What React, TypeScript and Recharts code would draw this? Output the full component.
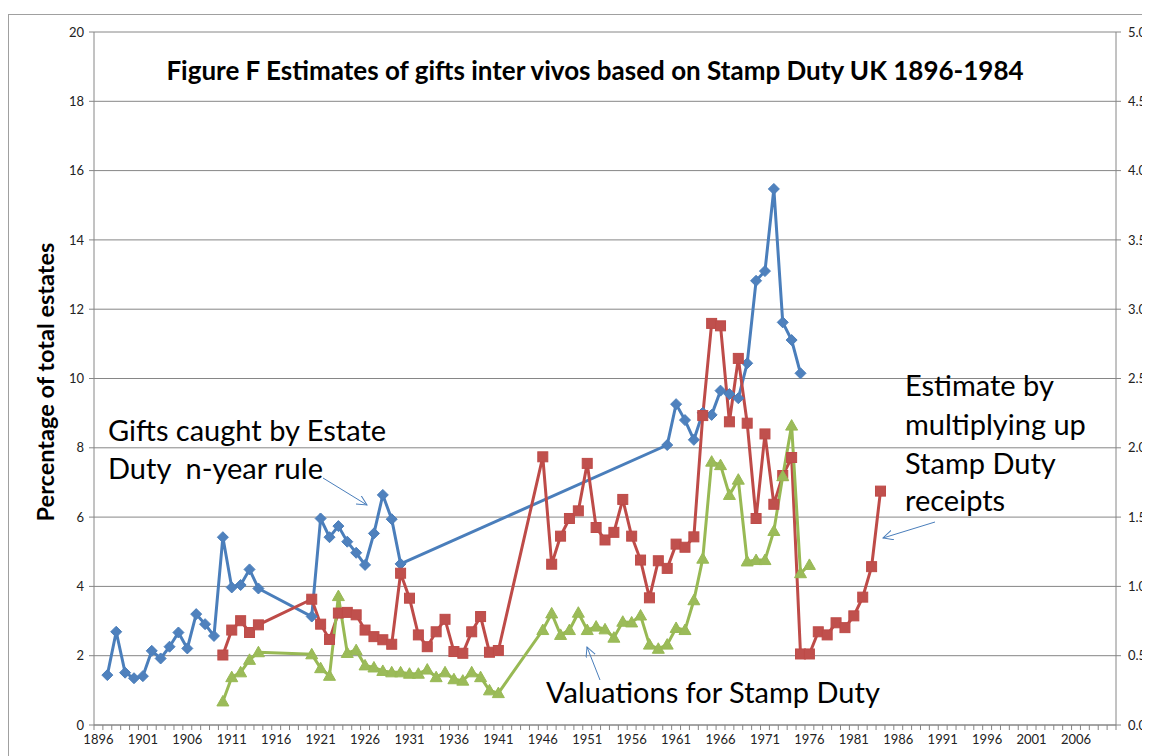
import React from "react";
import { LineChart, Line, XAxis, YAxis, CartesianGrid } from "recharts";

const years = [
  1896, 1897, 1898, 1899, 1900, 1901, 1902, 1903, 1904, 1905,
  1906, 1907, 1908, 1909, 1910, 1911, 1912, 1913, 1914, 1915,
  1916, 1917, 1918, 1919, 1920, 1921, 1922, 1923, 1924, 1925,
  1926, 1927, 1928, 1929, 1930, 1931, 1932, 1933, 1934, 1935,
  1936, 1937, 1938, 1939, 1940, 1941, 1942, 1943, 1944, 1945,
  1946, 1947, 1948, 1949, 1950, 1951, 1952, 1953, 1954, 1955,
  1956, 1957, 1958, 1959, 1960, 1961, 1962, 1963, 1964, 1965,
  1966, 1967, 1968, 1969, 1970, 1971, 1972, 1973, 1974, 1975,
  1976, 1977, 1978, 1979, 1980, 1981, 1982, 1983, 1984,
];

// Gifts caught by Estate Duty n-year rule (left axis, %)
const giftsEstateDuty = [
  null, 1.44, 2.69, 1.51, 1.35, 1.41, 2.14, 1.92, 2.26, 2.67,
  2.21, 3.2, 2.91, 2.57, 5.42, 3.97, 4.04, 4.49, 3.94, null,
  null, null, null, null, 3.13, 5.96, 5.42, 5.74, 5.29, 4.97,
  4.62, 5.53, 6.64, 5.94, 4.65, null, null, null, null, null,
  null, null, null, null, null, null, null, null, null, null,
  null, null, null, null, null, null, null, null, null, null,
  null, null, null, null, 8.08, 9.26, 8.8, 8.23, 9.01, 8.95,
  9.65, 9.55, 9.43, 10.44, 12.82, 13.1, 15.47, 11.62, 11.11, 10.15,
  null, null, null, null, null, null, null, null, null,
];

// Estimate by multiplying up Stamp Duty receipts (left axis, %)
const stampDutyEstimate = [
  null, null, null, null, null, null, null, null, null, null,
  null, null, null, null, 2.02, 2.74, 3.01, 2.67, 2.89, null,
  null, null, null, null, 3.63, 2.91, 2.47, 3.23, 3.25, 3.18,
  2.74, 2.55, 2.46, 2.33, 4.38, 3.66, 2.6, 2.26, 2.69, 3.05,
  2.12, 2.07, 2.69, 3.13, 2.1, 2.15, null, null, null, null,
  7.74, 4.64, 5.45, 5.96, 6.18, 7.55, 5.7, 5.34, 5.56, 6.51,
  5.45, 4.76, 3.67, 4.74, 4.52, 5.22, 5.13, 5.43, 8.93, 11.59,
  11.52, 8.75, 10.58, 8.71, 5.96, 8.4, 6.37, 7.2, 7.72, 2.05,
  2.05, 2.69, 2.6, 2.95, 2.81, 3.15, 3.69, 4.57, 6.75,
];

// Valuations for Stamp Duty (right axis)
const valuationsStampDuty = [
  null, null, null, null, null, null, null, null, null, null,
  null, null, null, null, 0.17, 0.345, 0.38, 0.47, 0.525, null,
  null, null, null, null, 0.51, 0.41, 0.355, 0.93, 0.52, 0.54,
  0.43, 0.415, 0.39, 0.38, 0.38, 0.37, 0.37, 0.4, 0.345, 0.38,
  0.33, 0.32, 0.38, 0.345, 0.25, 0.23, null, null, null, null,
  0.685, 0.805, 0.65, 0.685, 0.81, 0.685, 0.71, 0.69, 0.63, 0.745,
  0.74, 0.79, 0.58, 0.55, 0.58, 0.7, 0.685, 0.9, 1.2, 1.9,
  1.875, 1.66, 1.77, 1.18, 1.19, 1.19, 1.4, 1.795, 2.16, 1.095,
  1.155, null, null, null, null, null, null, null, null,
];

const leftTicks = [0, 2, 4, 6, 8, 10, 12, 14, 16, 18, 20];
const rightTicks = [0, 0.5, 1, 1.5, 2, 2.5, 3, 3.5, 4, 4.5, 5];
const labelYears = [
  1896, 1901, 1906, 1911, 1916, 1921, 1926, 1931, 1936, 1941, 1946, 1951,
  1956, 1961, 1966, 1971, 1976, 1981, 1986, 1991, 1996, 2001, 2006,
];
const firstCategory = 1896;
const lastCategory = 2010;

const data = years.map((year, i) => ({
  year,
  gifts: giftsEstateDuty[i],
  stamp: stampDutyEstimate[i],
  valuations: valuationsStampDuty[i],
}));

const boundaryTicks: number[] = [];
for (let y = firstCategory; y <= lastCategory + 1; y++) boundaryTicks.push(y - 0.5);
const xTicks = [...boundaryTicks, ...labelYears];

const FONT = "Lato, 'Open Sans', sans-serif";
const GRID = "#868686";
const BLUE = "#4A7EBB";
const BLUE_M = "#4F81BD";
const RED = "#BE4B48";
const RED_M = "#C0504D";
const GREEN = "#98B954";
const GREEN_M = "#9BBB59";

const XTick = (props: any) => {
  const { x, y, payload } = props;
  const v = payload.value;
  if (Math.abs(v % 1) > 0.01) {
    return <line x1={x} x2={x} y1={y} y2={y + 5} stroke={GRID} strokeWidth={1} />;
  }
  return (
    <text x={x} y={y + 19} textAnchor="middle" fontFamily={FONT} fontSize={13} fill="#222">
      {v}
    </text>
  );
};

const Diamond = (props: any) => {
  const { cx, cy, value } = props;
  if (value == null || cx == null || cy == null) return <g key={props.key} />;
  const s = 5.5;
  return (
    <path
      key={props.key}
      d={`M${cx},${cy - s}L${cx + s},${cy}L${cx},${cy + s}L${cx - s},${cy}Z`}
      fill={BLUE_M}
      stroke={BLUE}
      strokeWidth={1}
    />
  );
};

const Square = (props: any) => {
  const { cx, cy, value } = props;
  if (value == null || cx == null || cy == null) return <g key={props.key} />;
  const s = 5;
  return <rect key={props.key} x={cx - s} y={cy - s} width={2 * s} height={2 * s} fill={RED_M} stroke={RED} strokeWidth={1} />;
};

const Triangle = (props: any) => {
  const { cx, cy, value } = props;
  if (value == null || cx == null || cy == null) return <g key={props.key} />;
  const s = 6;
  return (
    <path
      key={props.key}
      d={`M${cx},${cy - s}L${cx + s},${cy + s * 0.75}L${cx - s},${cy + s * 0.75}Z`}
      fill={GREEN_M}
      stroke={GREEN}
      strokeWidth={1}
    />
  );
};

const textStyle: React.CSSProperties = { whiteSpace: "pre" };

export default function App() {
  return (
    <div style={{ position: "relative", width: 1142, height: 748, overflow: "hidden" }}>
      <div
        style={{
          position: "absolute",
          left: 0,
          top: 6,
          width: 1200,
          height: 800,
          border: "1px solid #a0a0a0",
          boxSizing: "border-box",
        }}
      />
      <div style={{ position: "absolute", left: 0, top: 0 }}>
        <LineChart width={1142} height={748} data={data} margin={{ top: 24, right: 0, bottom: 1, left: 26 }}>
          <CartesianGrid horizontal vertical={false} stroke={GRID} strokeWidth={1} />
          <XAxis
            dataKey="year"
            type="number"
            domain={[firstCategory - 0.5, lastCategory + 0.5]}
            ticks={xTicks}
            interval={0}
            tick={<XTick />}
            tickLine={false}
            tickSize={0}
            tickMargin={0}
            height={30}
            axisLine={{ stroke: GRID }}
            allowDataOverflow
          />
          <YAxis
            domain={[0, 20]}
            ticks={leftTicks}
            interval={0}
            width={60}
            tickSize={5}
            tickMargin={5}
            axisLine={{ stroke: GRID }}
            tickLine={{ stroke: GRID }}
            tick={{ fontFamily: FONT, fontSize: 13, fill: "#222" }}
          />
          <YAxis
            yAxisId="right"
            orientation="right"
            domain={[0, 5]}
            ticks={rightTicks}
            interval={0}
            width={34}
            tickSize={5}
            tickMargin={7}
            tickFormatter={(v: number) => v.toFixed(1)}
            axisLine={{ stroke: GRID }}
            tickLine={{ stroke: GRID }}
            tick={{ fontFamily: FONT, fontSize: 13, fill: "#222" }}
          />
          <Line
            dataKey="gifts"
            stroke={BLUE}
            strokeWidth={3}
            connectNulls
            dot={(p: any) => <Diamond {...p} />}
            activeDot={false}
            isAnimationActive={false}
          />
          <Line
            dataKey="stamp"
            stroke={RED}
            strokeWidth={3}
            connectNulls
            dot={(p: any) => <Square {...p} />}
            activeDot={false}
            isAnimationActive={false}
          />
          <Line
            yAxisId="right"
            dataKey="valuations"
            stroke={GREEN}
            strokeWidth={3}
            connectNulls
            dot={(p: any) => <Triangle {...p} />}
            activeDot={false}
            isAnimationActive={false}
          />
        </LineChart>
      </div>
      <svg
        width={1142}
        height={748}
        style={{ position: "absolute", left: 0, top: 0, pointerEvents: "none" }}
      >
        <defs>
          <marker id="arr" markerWidth="12" markerHeight="12" refX="10" refY="5" orient="auto" markerUnits="userSpaceOnUse">
            <path d="M0,0 L10,5 L0,10" fill="none" stroke={BLUE} strokeWidth={1} />
          </marker>
        </defs>
        <text x={587} y={72} textAnchor="middle" fontFamily={FONT} fontWeight="bold" fontSize={26} fill="#000">
          Figure F Estimates of gifts inter vivos based on Stamp Duty UK 1896-1984
        </text>
        <text
          x={37}
          y={374}
          transform="rotate(-90 37 374)"
          textAnchor="middle"
          dominantBaseline="central"
          fontFamily={FONT}
          fontWeight="bold"
          fontSize={23.5}
          fill="#000"
        >
          Percentage of total estates
        </text>
        <g fontFamily={FONT} fontSize={29} fill="#000">
          <text x={100} y={433} style={textStyle}>Gifts caught by Estate</text>
          <text x={100} y={471} style={textStyle}>{"Duty  n-year rule"}</text>
          <text x={897} y={388} style={textStyle}>Estimate by</text>
          <text x={897} y={427} style={textStyle}>multiplying up</text>
          <text x={897} y={466} style={textStyle}>Stamp Duty</text>
          <text x={897} y={503} style={textStyle}>receipts</text>
          <text x={538} y={695} style={textStyle}>Valuations for Stamp Duty</text>
        </g>
        <line x1={315} y1={470} x2={359} y2={497} stroke={BLUE} strokeWidth={1} markerEnd="url(#arr)" />
        <line x1={592} y1={672} x2={579} y2={639} stroke={BLUE} strokeWidth={1} markerEnd="url(#arr)" />
        <line x1={927} y1={514} x2={875} y2={530} stroke={BLUE} strokeWidth={1} markerEnd="url(#arr)" />
      </svg>
    </div>
  );
}
